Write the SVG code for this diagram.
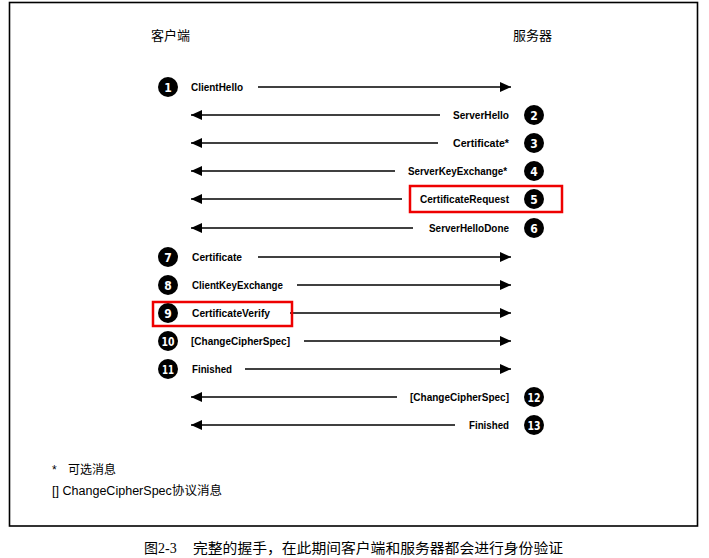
<svg xmlns="http://www.w3.org/2000/svg" width="709" height="558" viewBox="0 0 709 558">
<defs>
<marker id="ah" markerWidth="12" markerHeight="10" refX="11" refY="5" orient="auto" markerUnits="userSpaceOnUse">
<path d="M0,0 L11,5 L0,10 Z" fill="#000"/>
</marker>
</defs>
<style>
.msg{font-family:"Liberation Sans","DejaVu Sans",sans-serif;font-weight:bold;font-size:11px;fill:#000}
.num{font-family:"DejaVu Sans","Liberation Sans",sans-serif;font-stretch:condensed;font-weight:bold;font-size:12px;fill:#fff;text-anchor:middle}
.cjk{font-family:"Noto Sans CJK SC",sans-serif;font-size:13px;fill:#000}
.leg{font-family:"Liberation Sans","Noto Sans CJK SC",sans-serif;font-size:12px;fill:#000}
.cap{font-family:"Liberation Serif","Noto Sans CJK SC",serif;font-size:14px;fill:#000}
.ln{stroke:#000;stroke-width:1.6;fill:none}
.red{stroke:#e00;stroke-width:2.5;fill:none}
</style>
<rect x="9.5" y="2.5" width="688" height="523.5" fill="#fff" stroke="#000" stroke-width="1.6"/>
<g id="headers">
<text class="cjk" x="151" y="40">客户端</text>
<text class="cjk" x="513" y="40">服务器</text>
</g>
<g id="connectors">
<line class="ln" x1="258" y1="87" x2="511" y2="87" marker-end="url(#ah)"/>
<line class="ln" x1="440" y1="115" x2="191" y2="115" marker-end="url(#ah)"/>
<line class="ln" x1="438" y1="143" x2="191" y2="143" marker-end="url(#ah)"/>
<line class="ln" x1="395" y1="171" x2="191" y2="171" marker-end="url(#ah)"/>
<line class="ln" x1="402" y1="199" x2="191" y2="199" marker-end="url(#ah)"/>
<line class="ln" x1="413" y1="228" x2="191" y2="228" marker-end="url(#ah)"/>
<line class="ln" x1="258" y1="257" x2="511" y2="257" marker-end="url(#ah)"/>
<line class="ln" x1="297" y1="285" x2="511" y2="285" marker-end="url(#ah)"/>
<line class="ln" x1="290" y1="313" x2="511" y2="313" marker-end="url(#ah)"/>
<line class="ln" x1="304" y1="341" x2="511" y2="341" marker-end="url(#ah)"/>
<line class="ln" x1="245" y1="369" x2="511" y2="369" marker-end="url(#ah)"/>
<line class="ln" x1="397" y1="397" x2="191" y2="397" marker-end="url(#ah)"/>
<line class="ln" x1="455" y1="425" x2="191" y2="425" marker-end="url(#ah)"/>
</g>
<g id="m1"><circle cx="168" cy="87" r="10"/><text class="num" x="168" y="91.5">1</text><text class="msg" x="191" y="91" textLength="52" lengthAdjust="spacingAndGlyphs">ClientHello</text></g>
<g id="m2"><circle cx="534" cy="115" r="10"/><text class="num" x="534" y="119.5">2</text><text class="msg" x="453" y="119" textLength="56" lengthAdjust="spacingAndGlyphs">ServerHello</text></g>
<g id="m3"><circle cx="534" cy="143" r="10"/><text class="num" x="534" y="147.5">3</text><text class="msg" x="453" y="147" textLength="56" lengthAdjust="spacingAndGlyphs">Certificate*</text></g>
<g id="m4"><circle cx="534" cy="171" r="10"/><text class="num" x="534" y="175.5">4</text><text class="msg" x="408" y="175" textLength="99" lengthAdjust="spacingAndGlyphs">ServerKeyExchange*</text></g>
<g id="m5"><circle cx="534" cy="199" r="10"/><text class="num" x="534" y="203.5">5</text><text class="msg" x="420" y="203" textLength="89" lengthAdjust="spacingAndGlyphs">CertificateRequest</text><rect class="red" x="410" y="186" width="152" height="26"/></g>
<g id="m6"><circle cx="534" cy="228" r="10"/><text class="num" x="534" y="232.5">6</text><text class="msg" x="429" y="232" textLength="80" lengthAdjust="spacingAndGlyphs">ServerHelloDone</text></g>
<g id="m7"><circle cx="168" cy="257" r="10"/><text class="num" x="168" y="261.5">7</text><text class="msg" x="192" y="261" textLength="50" lengthAdjust="spacingAndGlyphs">Certificate</text></g>
<g id="m8"><circle cx="168" cy="285" r="10"/><text class="num" x="168" y="289.5">8</text><text class="msg" x="192" y="289" textLength="91" lengthAdjust="spacingAndGlyphs">ClientKeyExchange</text></g>
<g id="m9"><circle cx="168" cy="313" r="10"/><text class="num" x="168" y="317.5">9</text><text class="msg" x="192" y="317" textLength="78" lengthAdjust="spacingAndGlyphs">CertificateVerify</text><rect class="red" x="153" y="302" width="139" height="24"/></g>
<g id="m10"><circle cx="168" cy="341" r="10"/><text class="num" x="168" y="345.5" textLength="13" lengthAdjust="spacingAndGlyphs">10</text><text class="msg" x="191" y="345" textLength="99" lengthAdjust="spacingAndGlyphs">[ChangeCipherSpec]</text></g>
<g id="m11"><circle cx="168" cy="369" r="10"/><text class="num" x="168" y="373.5" textLength="12" lengthAdjust="spacingAndGlyphs">11</text><text class="msg" x="192" y="373" textLength="40" lengthAdjust="spacingAndGlyphs">Finished</text></g>
<g id="m12"><circle cx="534" cy="397" r="10"/><text class="num" x="534" y="401.5" textLength="13" lengthAdjust="spacingAndGlyphs">12</text><text class="msg" x="410" y="401" textLength="99" lengthAdjust="spacingAndGlyphs">[ChangeCipherSpec]</text></g>
<g id="m13"><circle cx="534" cy="425" r="10"/><text class="num" x="534" y="429.5" textLength="13" lengthAdjust="spacingAndGlyphs">13</text><text class="msg" x="469" y="429" textLength="40" lengthAdjust="spacingAndGlyphs">Finished</text></g>
<g id="legend">
<text class="leg" x="52" y="474">*</text>
<text class="leg" x="68" y="474">可选消息</text>
<text class="leg" x="52" y="495" textLength="170" lengthAdjust="spacingAndGlyphs">[] ChangeCipherSpec协议消息</text>
</g>
<g id="caption">
<text class="cap" x="144" y="553">图2-3</text>
<text class="cap" x="193" y="553" textLength="370" lengthAdjust="spacingAndGlyphs">完整的握手，在此期间客户端和服务器都会进行身份验证</text>
</g>
</svg>
